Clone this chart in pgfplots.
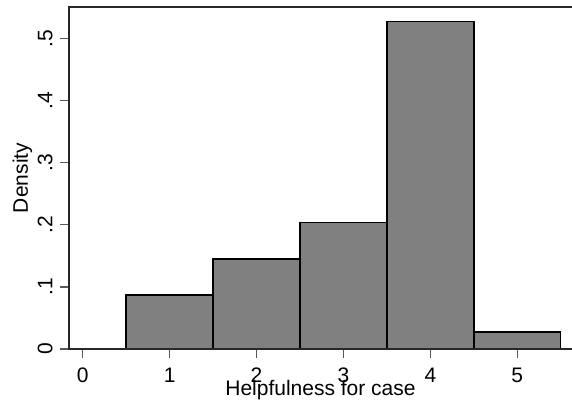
\documentclass[border=0pt]{standalone}
\usepackage{fontspec}
\setmainfont{Liberation Sans}
\usepackage{pgfplots}
\pgfplotsset{compat=1.18}
\definecolor{barfill}{RGB}{128,128,128}
\definecolor{framecol}{RGB}{40,40,40}
\begin{document}
\fontsize{21}{25}\selectfont
\begin{tikzpicture}
\useasboundingbox (-69pt,-61pt) rectangle (503pt,349pt);
\begin{axis}[
  at={(0pt,0pt)}, anchor=south west,
  scale only axis, width=503pt, height=342pt,
  xmin=-0.158, xmax=5.63, ymin=0, ymax=0.551,
  axis line style={draw=none},
  tick pos=left, tick align=outside,
  major tick length=8.5pt,
  every tick/.style={line width=1.2pt, color=black!65},
  xtick={0,1,2,3,4,5}, xticklabels={0,1,2,3,4,5},
  ytick={0,0.1,0.2,0.3,0.4,0.5}, yticklabels={0,.1,.2,.3,.4,.5},
  /pgf/number format/assume math mode=true,
  every tick label/.append style={font=\fontsize{21}{25}\selectfont, inner sep=0pt},
  xticklabel style={anchor=north, yshift=-10.5pt},
  yticklabel style={rotate=90, anchor=base},
  yticklabel shift=8pt,
  xlabel={Helpfulness for case},
  ylabel={Density},
  every axis x label/.style={at={(axis description cs:0.5,0)}, yshift=-46pt, anchor=base, font=\fontsize{21}{25}\selectfont},
  every axis y label/.style={at={(axis description cs:0,0.5)}, xshift=-41pt, rotate=90, anchor=base, font=\fontsize{21}{25}\selectfont},
  clip=false,
  after end axis/.code={
    \draw[line width=2pt, color=framecol]
      (rel axis cs:1,0) -- (rel axis cs:0,0) -- (rel axis cs:0,1) -- (rel axis cs:1,1);
  },
]
\addplot[ybar interval, fill=barfill, draw=black, line width=1.5pt]
  coordinates {(0.5,0.087) (1.5,0.145) (2.5,0.204) (3.5,0.528) (4.5,0.027) (5.5,0.027)};
\end{axis}
\end{tikzpicture}
\end{document}
